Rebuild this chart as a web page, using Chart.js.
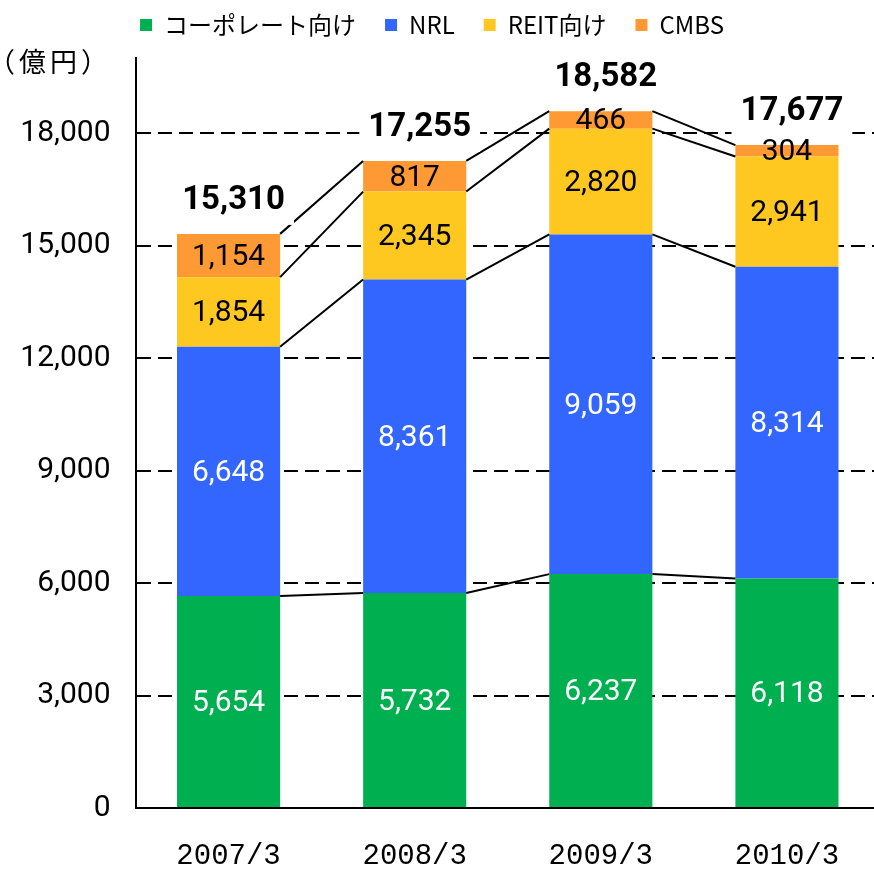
<!DOCTYPE html>
<html><head><meta charset="utf-8">
<script src="https://cdn.jsdelivr.net/npm/chart.js@4"></script>
<style>html,body{margin:0;padding:0;background:#fff;overflow:hidden;}</style>
</head><body>
<canvas id="c" width="880" height="874" style="display:block"></canvas>
<script>
const categories = ['2007/3', '2008/3', '2009/3', '2010/3'];
const seriesNames = ['コーポレート向け', 'NRL', 'REIT向け', 'CMBS'];
const corporate = [5654, 5732, 6237, 6118];
const nrl = [6648, 8361, 9059, 8314];
const reit = [1854, 2345, 2820, 2941];
const cmbs = [1154, 817, 466, 304];
const totals = [15310, 17255, 18582, 17677];
const yTicks = [0, 3000, 6000, 9000, 12000, 15000, 18000];
const unitLabel = '（億円）';
const yMax = 20000;

const colors = ['#00B050', '#3366FF', '#FFC821', '#FF9933'];
const labelColors = ['#ffffff', '#ffffff', '#000000', '#000000'];
const seriesValues = [corporate, nrl, reit, cmbs];

const fmt = v => v.toLocaleString('en-US');

const overlay = {
  id: 'overlay',
  afterDatasetsDraw(chart) {
    const ctx = chart.ctx;
    const metas = chart.data.datasets.map((d, i) => chart.getDatasetMeta(i));
    ctx.save();
    // connector lines between bars
    ctx.strokeStyle = '#000';
    ctx.lineWidth = 2;
    metas.forEach(m => {
      for (let i = 0; i < m.data.length - 1; i++) {
        const a = m.data[i], b = m.data[i + 1];
        ctx.beginPath();
        ctx.moveTo(a.x + a.width / 2, a.y);
        ctx.lineTo(b.x - b.width / 2, b.y);
        ctx.stroke();
      }
    });
    // segment labels
    ctx.font = '30px Roboto';
    ctx.textAlign = 'center';
    ctx.textBaseline = 'middle';
    metas.forEach((m, d) => {
      ctx.fillStyle = labelColors[d];
      m.data.forEach((el, i) => {
        const v = chart.data.datasets[d].data[i];
        ctx.fillText(fmt(v), el.x, (el.y + el.base) / 2 + 2);
      });
    });
    // totals with white background
    const topMeta = metas[metas.length - 1];
    ctx.font = 'bold 33px Roboto';
    topMeta.data.forEach((el, i) => {
      const t = fmt(totals[i]);
      const w = ctx.measureText(t).width;
      const cx = el.x + 5, cy = el.y - 33;
      ctx.fillStyle = '#fff';
      ctx.fillRect(cx - w / 2 - 9, cy - 22, w + 18, 46);
      ctx.fillStyle = '#000';
      ctx.fillText(t, cx, cy);
    });
    // unit label
    ctx.font = '27px "Noto Sans CJK JP"';
    ctx.letterSpacing = '4px';
    ctx.textAlign = 'left';
    ctx.fillStyle = '#000';
    ctx.fillText(unitLabel, -12, 62);
    ctx.letterSpacing = '0px';
    ctx.restore();
  }
};

new Chart(document.getElementById('c'), {
  type: 'bar',
  data: {
    labels: categories,
    datasets: seriesNames.map((n, i) => ({
      label: n,
      data: seriesValues[i],
      backgroundColor: colors[i],
      borderWidth: 0,
      barPercentage: 0.554,
      categoryPercentage: 1.0
    }))
  },
  options: {
    responsive: false,
    animation: false,
    devicePixelRatio: 1,
    layout: { padding: { left: -16, top: -16, right: 0, bottom: 0 } },
    plugins: {
      tooltip: { enabled: false },
      legend: {
        position: 'top',
        labels: {
          boxWidth: 12, boxHeight: 12, padding: 29, color: '#000',
          font: { family: '"Noto Sans CJK JP"', size: 24 }
        }
      }
    },
    scales: {
      x: {
        stacked: true,
        z: 1,
        grid: { display: false, drawTicks: false },
        border: { display: true, color: '#000', width: 2 },
        ticks: { color: '#000', padding: 31, font: { family: '"Liberation Mono"', size: 29 } },
        afterFit(s) { s.height = 66; }
      },
      xTop: {
        type: 'category',
        labels: categories,
        position: 'top',
        grid: { display: false, drawTicks: false },
        border: { display: false },
        ticks: { display: false },
        afterFit(s) { s.height = 11; }
      },
      y: {
        stacked: true,
        min: 0,
        max: yMax,
        grid: {
          drawTicks: false,
          lineWidth: 2,
          color: c => (c.tick && c.tick.value === 0) ? 'rgba(0,0,0,0)' : '#000'
        },
        border: { display: true, color: '#000', width: 2, dash: [14, 7] },
        ticks: {
          padding: 25,
          color: '#000',
          font: { family: 'Roboto', size: 30 },
          callback: v => fmt(v)
        },
        afterBuildTicks(s) { s.ticks = yTicks.map(v => ({ value: v })); },
        afterFit(s) { s.width = 151.5; }
      }
    }
  },
  plugins: [overlay]
});
</script>
</body></html>
